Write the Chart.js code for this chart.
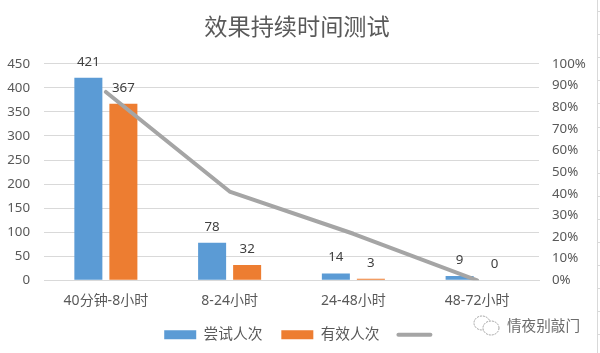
<!DOCTYPE html>
<html><head><meta charset="utf-8">
<script src="https://cdn.jsdelivr.net/npm/chart.js@4"></script>
<style>
html,body{margin:0;padding:0;background:#fff;width:600px;height:353px;overflow:hidden}
#wrap{position:absolute;left:0;top:0;width:600px;height:353px}
#c{position:absolute;left:0;top:0}
#edge{position:absolute;left:597px;top:0;width:3px;height:353px;border-left:1px solid #d9d9d9;box-sizing:border-box;
background:repeating-linear-gradient(to bottom,transparent 0,transparent 11px,#d9d9d9 11px,#d9d9d9 12px,transparent 12px,transparent 23.1px)}
#mark{position:absolute;left:473px;top:315px;width:110px;height:22px;color:#6b6b6b;font:14.6px "Noto Sans CJK SC";line-height:20px}
#mark span{position:absolute;left:34px;top:0;white-space:nowrap}
#mark svg{position:absolute;left:0;top:0}
</style></head><body>
<div id="wrap"><canvas id="c" width="594" height="353"></canvas>
<div id="edge"></div>
<div id="mark"><svg width="28" height="22" viewBox="0 0 28 22" fill="#fff" stroke="#a0a0a0" stroke-width="1" stroke-dasharray="2 1"><ellipse cx="9" cy="8" rx="8" ry="7"/><ellipse cx="18" cy="13" rx="8" ry="7"/></svg><span>情夜别敲门</span></div>
</div>
<script>
const categories = ['40分钟-8小时','8-24小时','24-48小时','48-72小时'];
const tried = [421,78,14,9];
const effective = [367,32,3,0];
const ratio = [0.87,0.41,0.215,0];
const seriesNames = ['尝试人次','有效人次',''];
const titleText = '效果持续时间测试';
const fontFam = '"Noto Sans","Noto Sans CJK SC",sans-serif';
const valueLabels = {
  id:'valueLabels',
  afterLayout(chart){
    chart.legend.left+=4;chart.legend.right+=4;
  },
  afterDatasetsDraw(chart){
    const ctx=chart.ctx;
    ctx.save();
    ctx.font='13.3px '+fontFam;ctx.fillStyle='#404040';ctx.textAlign='center';ctx.textBaseline='middle';
    [0,1].forEach(i=>{
      chart.getDatasetMeta(i).data.forEach((b,j)=>{
        ctx.fillText(String(chart.data.datasets[i].data[j]),b.x,b.y-16);
      });
    });
    ctx.restore();
  }
};
new Chart(document.getElementById('c'),{
  data:{labels:categories,datasets:[
    {type:'bar',label:seriesNames[0],data:tried,backgroundColor:'#5b9bd5',yAxisID:'y',order:2,categoryPercentage:0.566,barPercentage:0.8},
    {type:'bar',label:seriesNames[1],data:effective,backgroundColor:'#ed7d31',yAxisID:'y',order:2,categoryPercentage:0.566,barPercentage:0.8},
    {type:'line',label:seriesNames[2],data:ratio,borderColor:'#a5a5a5',borderWidth:4,pointRadius:0,tension:0,borderCapStyle:'round',borderJoinStyle:'round',yAxisID:'y1',order:1}
  ]},
  options:{
    responsive:false,animation:false,
    layout:{padding:{left:0,right:0,top:0,bottom:1}},
    plugins:{
      title:{display:true,text:titleText,color:'#595959',font:{family:'"Noto Sans CJK SC"',size:23.2,weight:'normal'},padding:{top:12,bottom:24}},
      legend:{position:'bottom',labels:{
        usePointStyle:true,pointStyleWidth:32,boxHeight:9,color:'#595959',font:{family:fontFam,size:14.7},padding:19,
        generateLabels(chart){
          return chart.data.datasets.map((d,i)=>({
            text:d.label,datasetIndex:i,
            fillStyle:d.type==='bar'?d.backgroundColor:d.borderColor,
            strokeStyle:d.type==='bar'?d.backgroundColor:d.borderColor,
            lineWidth:d.type==='bar'?0:4,
            lineCap:'round',
            pointStyle:d.type==='bar'?'rect':'line',
            fontColor:'#595959'
          }));
        }
      }},
      tooltip:{enabled:false}
    },
    scales:{
      x:{afterFit(s){s.height=28},grid:{display:false},border:{color:'#d9d9d9'},ticks:{color:'#595959',font:{family:fontFam,size:14},padding:4,maxRotation:0}},
      y:{position:'left',min:0,max:450,afterFit(s){s.width=44},grid:{color:'#d9d9d9',lineWidth:1,drawTicks:false},border:{display:false},
         ticks:{stepSize:50,color:'#595959',font:{family:fontFam,size:13.3},padding:14}},
      y1:{position:'right',min:0,max:1,afterFit(s){s.width=55},grid:{display:false},border:{display:false},
         ticks:{stepSize:0.1,color:'#595959',font:{family:fontFam,size:13.3},padding:5,callback:v=>Math.round(v*100)+'%'}}
    }
  },
  plugins:[valueLabels]
});
</script></body></html>
